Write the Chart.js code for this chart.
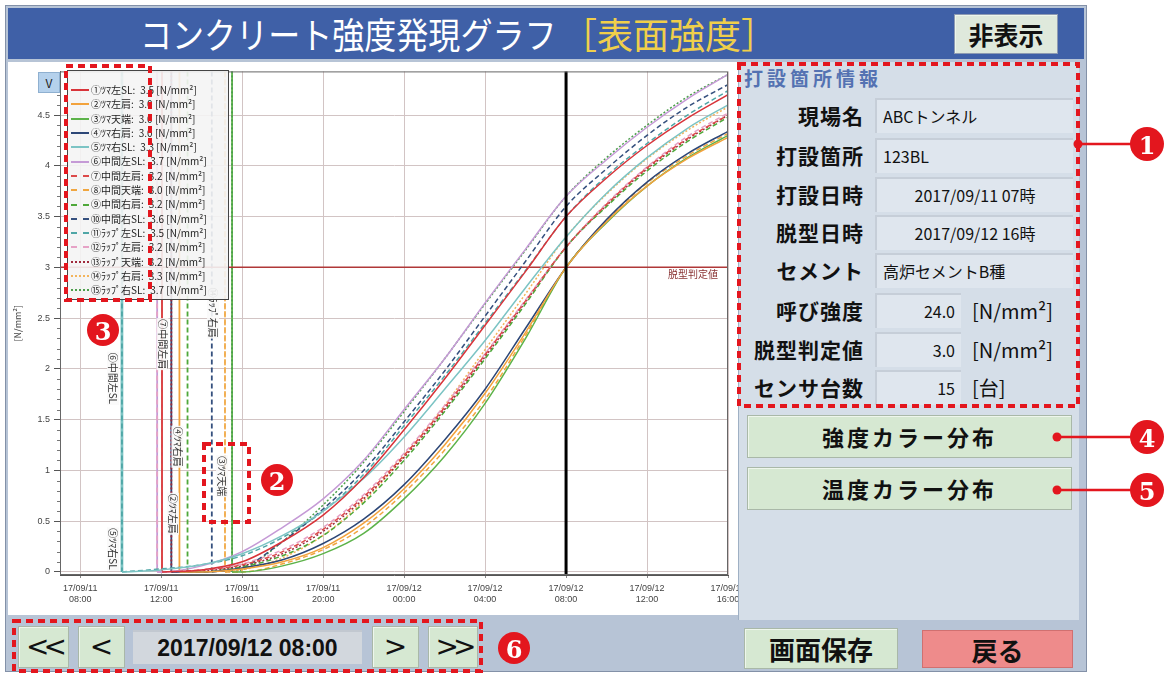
<!DOCTYPE html>
<html>
<head>
<meta charset="utf-8">
<script src="https://cdn.jsdelivr.net/npm/chart.js@4.4.1/dist/chart.umd.min.js"></script>
<style>
body{margin:0;width:1166px;height:677px;background:#fff;position:relative;overflow:hidden;font-family:"Noto Sans CJK JP",sans-serif;}
.abs{position:absolute;box-sizing:border-box;}
#frame{left:5px;top:5px;width:1082px;height:667px;background:#b7c4d6;border:1px solid #8391a8;}
#titlebar{left:8px;top:8px;width:1076px;height:51px;background:#3f60a7;}
#title{left:140px;top:8px;height:51px;line-height:51px;font-size:36px;color:#fff;white-space:nowrap;transform:scaleX(0.89);transform-origin:left center;}
#title2{left:561px;top:8px;height:51px;line-height:51px;font-size:36px;color:#f0cf4a;white-space:nowrap;}
.btn{background:#d6e8d2;border:1px solid #a9b8a8;box-shadow:inset 1px 1px 0 #eef6ec;text-align:center;font-weight:bold;color:#111;}
#hide{left:954px;top:14px;width:104px;height:40px;line-height:38px;font-size:25px;background:#dfe9dc;border-color:#8e9bb2;}
#chartPanel{left:8px;top:62px;width:730px;height:553px;background:#fff;overflow:hidden;}
#c{position:absolute;left:0;top:0;}
#vbtn{left:38px;top:72px;width:22px;height:21px;background:#b5d1ec;border:1px solid #8fb0d0;font-size:12px;line-height:19px;text-align:center;color:#222;}
#legend{left:67px;top:70px;width:162px;height:230px;background:rgba(244,244,244,0.9);border:1px solid #444;padding-top:12px;}
.lrow{height:14.3px;line-height:14.3px;font-size:10px;color:#222;white-space:nowrap;display:flex;align-items:center;}
.lsw{display:inline-block;width:18px;height:0;margin-left:3px;margin-right:2px;}
.lval{margin-left:5px;}
#side{left:738px;top:62px;width:341px;height:558px;background:#d5dee8;border-left:1px solid #9fb0c4;}
#head{left:744px;top:64px;font-size:19px;font-weight:bold;color:#5472b2;letter-spacing:4px;}
.lab{left:738px;width:126px;text-align:right;font-size:21px;font-weight:bold;color:#111;letter-spacing:1px;height:34px;line-height:34px;}
.box{left:875px;width:198px;height:35px;background:#dfe6ee;border-top:2px solid #c6ced8;border-left:2px solid #c6ced8;font-size:16px;line-height:32px;color:#111;padding:0 6px;white-space:nowrap;}
.num{width:86px;text-align:right;}
.unit{left:972px;font-size:20px;height:35px;line-height:35px;color:#111;}
.big{left:747px;width:325px;height:43px;line-height:41px;font-size:22px;letter-spacing:3px;}
.nav{top:626px;height:42px;line-height:40px;font-size:28px;font-weight:normal;font-family:"DejaVu Sans",sans-serif;}
#date{left:133px;top:630px;width:229px;height:34px;background:#d2d7dd;border-top:2px solid #c2c8d0;text-align:center;font-family:"Liberation Sans Narrow","Liberation Sans",sans-serif;font-weight:bold;font-size:23px;line-height:33px;color:#111;}
#save{left:744px;top:628px;width:154px;height:41px;line-height:40px;font-size:26px;}
#back{left:922px;top:630px;width:151px;height:38px;line-height:37px;font-size:26px;background:#ee8b8b;border-color:#d07070;box-shadow:none;}
</style>
</head>
<body>
<div id="frame" class="abs"></div>
<div id="titlebar" class="abs"></div>
<div id="title" class="abs">コンクリート強度発現グラフ</div>
<div id="title2" class="abs">［表面強度］</div>
<div id="hide" class="abs btn">非表示</div>

<div id="chartPanel" class="abs"><canvas id="c" width="760" height="553"></canvas></div>
<div id="vbtn" class="abs">V</div>
<div id="legend" class="abs"></div>

<div id="side" class="abs"></div>
<div id="head" class="abs">打設箇所情報</div>
<div class="abs lab" style="top:98px">現場名</div>
<div class="abs box" style="top:98px">ABCトンネル</div>
<div class="abs lab" style="top:138px">打設箇所</div>
<div class="abs box" style="top:138px">123BL</div>
<div class="abs lab" style="top:177px">打設日時</div>
<div class="abs box" style="top:177px;text-align:center">2017/09/11 07時</div>
<div class="abs lab" style="top:215px">脱型日時</div>
<div class="abs box" style="top:215px;text-align:center">2017/09/12 16時</div>
<div class="abs lab" style="top:253px">セメント</div>
<div class="abs box" style="top:253px">高炉セメントB種</div>
<div class="abs lab" style="top:293px">呼び強度</div>
<div class="abs box num" style="top:293px">24.0</div>
<div class="abs unit" style="top:293px">[N/mm²]</div>
<div class="abs lab" style="top:332px">脱型判定値</div>
<div class="abs box num" style="top:332px">3.0</div>
<div class="abs unit" style="top:332px">[N/mm²]</div>
<div class="abs lab" style="top:370px">センサ台数</div>
<div class="abs box num" style="top:370px">15</div>
<div class="abs unit" style="top:370px">[台]</div>

<div class="abs btn big" style="top:415px">強度カラー分布</div>
<div class="abs btn big" style="top:467px">温度カラー分布</div>

<div class="abs btn nav" style="left:18px;width:51px;letter-spacing:-6px">&lt;&lt;</div>
<div class="abs btn nav" style="left:78px;width:47px">&lt;</div>
<div id="date" class="abs">2017/09/12 08:00</div>
<div class="abs btn nav" style="left:372px;width:47px">&gt;</div>
<div class="abs btn nav" style="left:428px;width:50px;letter-spacing:-6px">&gt;&gt;</div>

<div id="save" class="abs btn">画面保存</div>
<div id="back" class="abs btn">戻る</div>

<svg class="abs" style="left:0;top:0;z-index:10" width="1166" height="677">
<g fill="none" stroke="#e3161e" stroke-width="4" stroke-dasharray="7 5">
<rect x="66" y="66" width="84" height="234"/>
<rect x="204" y="444" width="45" height="78"/>
<rect x="739" y="64" width="339" height="342"/>
<rect x="14" y="621" width="467" height="50"/>
</g>
<g stroke="#e3161e" stroke-width="2.5">
<line x1="1078" y1="144" x2="1132" y2="144"/>
<line x1="1057" y1="437" x2="1132" y2="437"/>
<line x1="1057" y1="490" x2="1132" y2="490"/>
</g>
<g fill="#e3161e">
<circle cx="1078" cy="144" r="4.5"/>
<circle cx="1057" cy="437" r="4.5"/>
<circle cx="1057" cy="490" r="4.5"/>
<circle cx="1147" cy="144" r="17"/>
<circle cx="1147" cy="437" r="17"/>
<circle cx="1147" cy="490" r="17"/>
<circle cx="277" cy="480" r="16"/>
<circle cx="103" cy="330" r="16"/>
<circle cx="514" cy="648" r="16"/>
</g>
<g fill="#fff" font-family="DejaVu Serif" font-weight="bold" font-size="24" text-anchor="middle" dominant-baseline="central">
<text x="1147" y="145">1</text>
<text x="1147" y="438">4</text>
<text x="1147" y="491">5</text>
<text x="277" y="481">2</text>
<text x="103" y="331">3</text>
<text x="514" y="649">6</text>
</g>
</svg>

<script>
// hours from 2017/09/11 00:00
const times=[8,10,12,14,16,18,20,22,24,26,28,30,32,34,36,38,40];
const xTickValues=[8,12,16,20,24,28,32,36,40];
const yTickValues=[0,0.5,1,1.5,2,2.5,3,3.5,4,4.5];
const cursorTime=32;
const thresholdValue=3.0;

const sensorNames=['①ﾂﾏ左SL','②ﾂﾏ左肩','③ﾂﾏ天端','④ﾂﾏ右肩','⑤ﾂﾏ右SL','⑥中間左SL','⑦中間左肩','⑧中間天端','⑨中間右肩','⑩中間右SL','⑪ﾗｯﾌﾟ左SL','⑫ﾗｯﾌﾟ左肩','⑬ﾗｯﾌﾟ天端','⑭ﾗｯﾌﾟ右肩','⑮ﾗｯﾌﾟ右SL'];
const cursorValues=[3.5,3.0,3.0,3.0,3.3,3.7,3.2,3.0,3.2,3.6,3.5,3.2,3.2,3.3,3.7];
const startTimes=[12.04,12.9,15.5,12.5,10.06,11.8,12.04,15.15,13.3,14.5,10.06,11.8,12.5,15.15,15.5];

const s01=[null,null,null,0.02,0.1,0.3,0.56,0.93,1.4,1.9,2.43,2.96,3.5,3.88,4.2,4.47,4.7];
const s02=[null,null,null,0.0,0.03,0.1,0.24,0.48,0.82,1.25,1.76,2.36,3.0,3.45,3.8,4.07,4.28];
const s03=[null,null,null,null,0.0,0.06,0.18,0.38,0.72,1.14,1.66,2.3,3.0,3.44,3.8,4.08,4.3];
const s04=[null,null,null,0.0,0.04,0.12,0.28,0.52,0.86,1.3,1.8,2.4,3.0,3.47,3.84,4.12,4.34];
const s05=[null,null,0.02,0.07,0.18,0.36,0.6,0.92,1.33,1.8,2.28,2.8,3.3,3.73,4.08,4.37,4.6];
const s06=[null,null,0.0,0.06,0.2,0.44,0.72,1.1,1.6,2.1,2.65,3.18,3.7,4.06,4.38,4.66,4.9];
const s07=[null,null,null,0.02,0.07,0.2,0.42,0.74,1.15,1.62,2.14,2.67,3.2,3.62,3.98,4.27,4.5];
const s08=[null,null,null,null,0.0,0.08,0.22,0.44,0.78,1.2,1.7,2.33,3.0,3.46,3.83,4.1,4.32];
const s09=[null,null,null,0.0,0.05,0.16,0.36,0.68,1.1,1.58,2.1,2.64,3.2,3.6,3.95,4.24,4.48];
const s10=[null,null,null,null,0.04,0.3,0.62,1.0,1.48,1.98,2.52,3.06,3.6,3.97,4.3,4.58,4.8];
const s11=[null,null,0.03,0.07,0.16,0.34,0.6,0.96,1.44,1.93,2.45,2.97,3.5,3.9,4.22,4.5,4.74];
const s12=[null,null,0.0,0.02,0.08,0.22,0.44,0.76,1.17,1.64,2.15,2.68,3.2,3.63,3.99,4.29,4.52];
const s13=[null,null,null,0.01,0.06,0.18,0.4,0.72,1.13,1.6,2.12,2.66,3.2,3.61,3.97,4.26,4.5];
const s14=[null,null,null,null,0.02,0.14,0.36,0.7,1.14,1.64,2.19,2.74,3.3,3.72,4.07,4.35,4.58];
const s15=[null,null,null,null,0.02,0.3,0.66,1.08,1.58,2.1,2.64,3.17,3.7,4.08,4.4,4.68,4.9];
const seriesValues=[s01,s02,s03,s04,s05,s06,s07,s08,s09,s10,s11,s12,s13,s14,s15];

// rotated sensor labels beside the start lines
const tagTexts=['⑥中間左SL','⑤ﾂﾏ右SL','⑦中間左肩','④ﾂﾏ右肩','②ﾂﾏ左肩','⑭ﾗｯﾌﾟ右肩','③ﾂﾏ天端'];
const tagTimes=[9.62,9.62,12.06,12.8,12.58,14.56,15.0];
const tagValues=[2.16,0.43,2.49,1.43,0.77,2.8,1.14];

const seriesColors=['#d8343a','#f2a23c','#5db34a','#2d4777','#7cc4c4','#c59ad6','#dc4a4a','#f0a640','#4fa83a','#35507e','#4fa6a6','#e6a2c6','#a02a3c','#f3b45c','#4c9f4c'];
const seriesDash=[[],[],[],[],[],[],[5,3],[5,3],[5,3],[5,3],[5,3],[5,3],[2,2],[2,2],[2,2]];

// legend
const lg=document.getElementById('legend');
sensorNames.forEach(function(n,i){
let st=seriesDash[i].length==0?'solid':(seriesDash[i][0]>3?'dashed':'dotted');
let row=document.createElement('div');
row.className='lrow';
row.innerHTML='<span class="lsw" style="border-top:2px '+st+' '+seriesColors[i]+'"></span><span>'+n+':</span><span class="lval">'+cursorValues[i].toFixed(1)+' [N/mm²]</span>';
lg.appendChild(row);
});

const datasets=seriesValues.map(function(vals,i){
let pts=[{x:startTimes[i],y:0}];
times.forEach(function(t,j){ if(vals[j]!==null) pts.push({x:t,y:vals[j]}); });
return {label:sensorNames[i],data:pts,borderColor:seriesColors[i],borderDash:seriesDash[i],borderWidth:1.5,pointRadius:0,cubicInterpolationMode:'monotone',fill:false};
});

function pad(n){return (n<10?'0':'')+n;}

const guides={
id:'guides',
beforeDatasetsDraw(chart){
const c=chart.ctx,a=chart.chartArea,x=chart.scales.x,y=chart.scales.y;
c.save();
const y0=y.getPixelForValue(0);
startTimes.forEach(function(t,i){
let px=x.getPixelForValue(t);
c.strokeStyle=seriesColors[i];
c.lineWidth=(i==4)?2.8:1.8;
c.setLineDash(seriesDash[i]);
c.beginPath();c.moveTo(px,a.top);c.lineTo(px,y0);c.stroke();
});
c.setLineDash([]);
let ty=y.getPixelForValue(thresholdValue);
c.strokeStyle='#b03838';c.lineWidth=1.5;
c.beginPath();c.moveTo(a.left,ty);c.lineTo(a.right,ty);c.stroke();
c.font='10px "Noto Sans CJK JP"';
c.fillStyle='rgba(255,255,255,0.8)';
c.fillRect(a.right-64,ty+2,56,13);
c.fillStyle='#8a3434';
c.textAlign='right';c.textBaseline='top';
c.fillText('脱型判定値',a.right-10,ty+2);
// rotated tags
c.font='10px "Noto Sans CJK JP"';
tagTexts.forEach(function(s,i){
let px=x.getPixelForValue(tagTimes[i]),py=y.getPixelForValue(tagValues[i]);
c.save();
c.translate(px,py);c.rotate(Math.PI/2);
let w=c.measureText(s).width;
c.fillStyle='rgba(250,250,250,0.9)';
c.fillRect(-1,-6,w+2,12);
c.fillStyle='#333';c.textAlign='left';c.textBaseline='middle';
c.fillText(s,0,0);
c.restore();
});
c.restore();
},
afterDatasetsDraw(chart){
const c=chart.ctx,a=chart.chartArea,x=chart.scales.x,y=chart.scales.y;
c.save();
let cx=x.getPixelForValue(cursorTime);
c.strokeStyle='#000';c.lineWidth=3;
c.beginPath();c.moveTo(cx,a.top);c.lineTo(cx,a.bottom);c.stroke();
c.lineWidth=1;c.strokeStyle='#666';
c.strokeRect(a.left+0.5,a.top+0.5,a.right-a.left-1,a.bottom-a.top-1);
// minor ticks on value axis
c.strokeStyle='#777';
for(let k=0;k<yTickValues.length;k++){
let v0=yTickValues[k],v1=k+1<yTickValues.length?yTickValues[k+1]:v0+0.5;
for(let m=1;m<5;m++){
let py=Math.round(y.getPixelForValue(v0+(v1-v0)*m/5))+0.5;
if(py<a.top) continue;
c.beginPath();c.moveTo(a.left-3,py);c.lineTo(a.left,py);c.stroke();
}
}
c.restore();
}
};

new Chart(document.getElementById('c'),{
type:'line',
data:{datasets:datasets},
options:{
responsive:false,
animation:false,
events:[],
layout:{padding:{top:5,right:40,left:0,bottom:0}},
plugins:{legend:{display:false},tooltip:{enabled:false}},
scales:{
x:{
type:'linear',min:7,max:40,
afterBuildTicks:function(s){s.ticks=xTickValues.map(function(v){return {value:v};});},
afterFit:function(s){s.height=40;},
grid:{color:'#d2c4c4',tickLength:3,tickColor:'#888'},
border:{color:'#555'},
ticks:{maxRotation:0,autoSkip:false,padding:5,color:'#444',font:{size:9,family:'Liberation Sans',lineHeight:1.25},
callback:function(v){return [(v<24?'17/09/11':'17/09/12'),pad(v%24)+':00'];}}
},
y:{
type:'linear',min:-0.03,max:4.93,
afterBuildTicks:function(s){s.ticks=yTickValues.map(function(v){return {value:v};});},
afterFit:function(s){s.width=52;},
grid:{color:'#d2c4c4',tickLength:6,tickColor:'#555'},
border:{color:'#555'},
title:{display:true,text:'[N/mm²]',color:'#444',font:{size:9,family:'Noto Sans CJK JP'},padding:{top:4,bottom:0}},
ticks:{padding:4,color:'#444',font:{size:9,family:'Liberation Sans'},callback:function(v){return String(v);}}
}
}
},
plugins:[guides]
});
</script>
</body>
</html>
